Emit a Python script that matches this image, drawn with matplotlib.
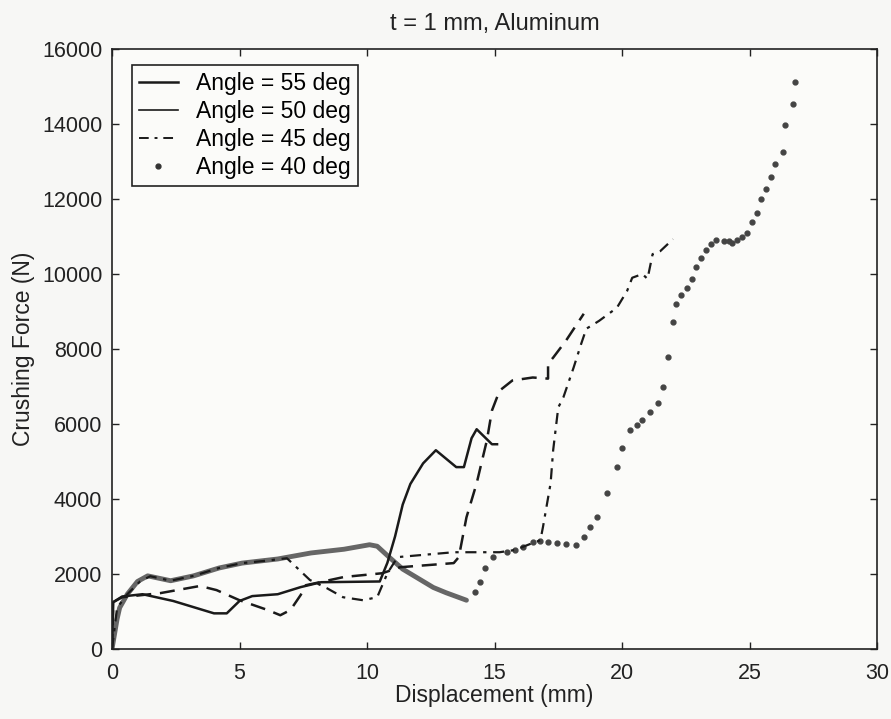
import numpy as np
import matplotlib
matplotlib.use("Agg")
from matplotlib import pyplot as plt
from matplotlib.lines import Line2D

plt.rcParams['font.family'] = ['Liberation Sans', 'DejaVu Sans']

# Angle = 55 deg (сплошная)
x55 = [0, 0.05, 0.4, 1.2, 2.4, 4.0, 4.5, 5.0, 5.5, 6.5, 7.4, 8.2, 10.5, 10.8, 11.1,
       11.4, 11.7, 12.2, 12.7, 13.5, 13.8, 14.1, 14.3, 14.9, 15.1]
y55 = [0, 1250, 1400, 1460, 1280, 950, 950, 1280, 1410, 1460, 1650, 1780, 1800, 2300, 3000,
       3850, 4400, 4950, 5300, 4850, 4850, 5620, 5860, 5460, 5460]

# Angle = 50 deg (штриховая)
x50 = [0, 0.05, 0.4, 1.9, 3.45, 4.1, 5.0, 6.1, 6.6, 7.0, 7.4, 7.6, 9.1, 10.6, 11.3,
       13.4, 13.6, 13.9, 14.3, 14.7, 14.9, 15.2, 15.7, 16.5, 17.1, 17.1, 17.3, 17.8, 18.5]
y50 = [0, 1250, 1380, 1490, 1680, 1570, 1300, 1040, 900, 1040, 1440, 1700, 1920, 2020, 2180,
       2290, 2450, 3510, 4420, 5560, 6360, 6890, 7160, 7240, 7210, 7610, 7770, 8220, 8940]

# Angle = 45 deg (штрихпунктир)
x45 = [0, 0.2, 0.6, 1.1, 1.5, 2.3, 3.2, 4.2, 5.1, 6.0, 6.86, 7.76, 8.43, 9.06, 9.84, 10.4,
       10.8, 11.2, 13.4, 15.2, 15.8, 16.4, 16.8, 16.9, 17.2, 17.3, 17.5, 17.7, 18.1, 18.4,
       18.6, 19.1, 19.8, 20.2, 20.4, 20.8, 21.0, 21.2, 21.5, 22.0]
y45 = [0, 1100, 1460, 1800, 1940, 1820, 1950, 2160, 2290, 2350, 2420, 1840, 1620, 1380, 1300, 1380,
       2020, 2450, 2580, 2580, 2640, 2800, 2900, 3250, 4420, 5300, 6440, 6710, 7500, 8140,
       8540, 8750, 9100, 9550, 9900, 10000, 9870, 10530, 10610, 10930]

# Angle = 40 deg, плотный участок (до минимума)
x40a = [0, 0.1, 0.2, 0.3, 0.6, 1.0, 1.4, 2.3, 3.2, 4.2, 5.1, 6.5, 7.8, 9.1, 10.1, 10.4,
        10.9, 11.4, 12.6, 13.1, 13.9]
y40a = [0, 400, 800, 1100, 1460, 1800, 1950, 1820, 1950, 2160, 2290, 2400, 2560, 2660, 2780, 2740,
        2430, 2130, 1640, 1500, 1300]

# Angle = 40 deg, редкие точки
x40b = [14.24, 14.43, 14.63, 14.94, 15.49, 15.8, 16.1, 16.5, 16.8, 17.1, 17.45, 17.8, 18.2,
        18.5, 18.75, 19.0, 19.4, 19.8, 20.0, 20.3, 20.6, 20.8, 21.1, 21.4, 21.6, 21.8, 22.0,
        22.1, 22.3, 22.55, 22.75, 22.9, 23.1, 23.3, 23.5, 23.7, 24.0, 24.2, 24.3, 24.5, 24.7,
        24.9, 25.1, 25.3, 25.45, 25.65, 25.85, 26.0, 26.3, 26.4, 26.7, 26.8]
y40b = [1520, 1780, 2160, 2450, 2580, 2640, 2720, 2850, 2880, 2850, 2820, 2800, 2770,
        2980, 3250, 3520, 4150, 4850, 5350, 5830, 5970, 6100, 6310, 6550, 6980, 7780, 8710,
        9210, 9430, 9640, 9880, 10200, 10440, 10630, 10810, 10920, 10890, 10870, 10840, 10920, 11000,
        11100, 11400, 11640, 12010, 12280, 12600, 12940, 13260, 13980, 14540, 15130]

labels = ["Angle = 55 deg", "Angle = 50 deg", "Angle = 45 deg", "Angle = 40 deg"]

fig = plt.figure(figsize=(8.91, 7.19), dpi=100, facecolor="#f7f7f5")
ax = fig.add_axes([0.1257, 0.0974, 0.8586, 0.8344], facecolor="#fbfbf9")

ax.plot(x40a, y40a, color="#666666", lw=3.5, solid_capstyle="round")
ax.plot(x40b, y40b, ".", color="#444444", ms=7)
ax.plot(x45, y45, color="#1a1a1a", lw=1.6, dashes=(5, 3, 1.5, 3))
ax.plot(x50, y50, color="#1a1a1a", lw=1.8, dashes=(6, 3.5))
ax.plot(x55, y55, color="#1a1a1a", lw=1.8)

ax.set_xlim(0, 30)
ax.set_ylim(0, 16000)
ax.set_xticks(np.arange(0, 31, 5))
ax.set_yticks(np.arange(0, 16001, 2000))
ax.tick_params(direction="in", length=5, width=1, top=True, right=True,
               labelsize=15.5, colors="#222222")
ax.tick_params(axis="x", pad=10)
ax.tick_params(axis="y", pad=7)
for s in ax.spines.values():
    s.set_linewidth(1.2)
    s.set_color("#222222")

ax.set_title("t = 1 mm, Aluminum", fontsize=17, color="#222222", pad=14)
ax.set_xlabel("Displacement (mm)", fontsize=16.5, color="#222222", labelpad=0)
ax.set_ylabel("Crushing Force (N)", fontsize=16.5, color="#222222", labelpad=5)

handles = [Line2D([], [], color="#1a1a1a", lw=1.8),
           Line2D([], [], color="#1a1a1a", lw=1.2),
           Line2D([], [], color="#1a1a1a", lw=1.4, dashes=(5, 3, 1.5, 3)),
           Line2D([], [], color="#333333", ls="none", marker=".", ms=7)]
leg = ax.legend(handles, labels, loc="upper left", bbox_to_anchor=(0.026, 0.973),
                borderaxespad=0, fontsize=16.5, frameon=True, fancybox=False,
                edgecolor="#222222", framealpha=1, facecolor="#fbfbf9",
                handlelength=1.7, labelspacing=0.22, borderpad=0.3, handletextpad=0.8)
leg.get_frame().set_linewidth(1.2)

fig.savefig("out.png", dpi=100, facecolor=fig.get_facecolor())
